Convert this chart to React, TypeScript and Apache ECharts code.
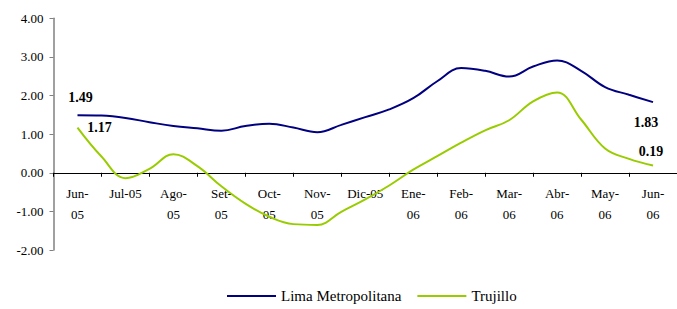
import React, { useEffect, useRef } from "react";
import * as echarts from "echarts";

const months = ["Jun-\n05", "Jul-05", "Ago-\n05", "Set-\n05", "Oct-\n05", "Nov-\n05", "Dic-05", "Ene-\n06", "Feb-\n06", "Mar-\n06", "Abr-\n06", "May-\n06", "Jun-\n06"];
const yTicks = [-2, -1, 0, 1, 2, 3, 4];
// half-month readings, Jun-05 .. Jun-06
const lima = [1.49, 1.48, 1.42, 1.31, 1.21, 1.15, 1.09, 1.21, 1.27, 1.17, 1.05, 1.24, 1.44, 1.64, 1.93, 2.37, 2.71, 2.64, 2.49, 2.75, 2.91, 2.64, 2.22, 2.02, 1.83];
const trujillo = [1.17, 0.42, -0.14, 0.10, 0.48, 0.17, -0.35, -0.80, -1.14, -1.33, -1.35, -1.01, -0.69, -0.33, 0.08, 0.43, 0.78, 1.10, 1.36, 1.85, 2.08, 1.38, 0.63, 0.36, 0.19];

const FONT = "Liberation Serif";
const GRID_H = 231.7;

function toPoints(vals: number[]) {
  return vals.map((v, i) => [0.5 + i * 0.5, v]);
}

function endLabels(vals: number[], firstOffset: number[], lastOffset: number[]) {
  const last = vals.length - 1;
  const mk = (i: number, off: number[]) => ({
    coord: [0.5 + i * 0.5, vals[i]],
    value: vals[i],
    label: {
      show: true,
      position: "inside",
      offset: off,
      formatter: vals[i].toFixed(2),
      color: "#000",
      fontFamily: FONT,
      fontWeight: "bold",
      fontSize: 14,
    },
  });
  return [mk(0, firstOffset), mk(last, lastOffset)];
}

export default function App() {
  const ref = useRef<HTMLDivElement>(null);
  useEffect(() => {
    if (!ref.current) return;
    const chart = echarts.init(ref.current, null, { renderer: "svg" });
    const yMin = yTicks[0];
    const yMax = yTicks[yTicks.length - 1];
    const zeroOffset = -(GRID_H * (0 - yMin)) / (yMax - yMin);
    chart.setOption({
      animation: false,
      backgroundColor: "#fff",
      textStyle: { fontFamily: FONT },
      grid: { left: 53.5, top: 18.3, width: 634.4, height: GRID_H, containLabel: false },
      legend: {
        left: 227,
        top: 288,
        padding: 0,
        itemWidth: 49,
        itemHeight: 2,
        itemGap: 16,
        icon: "rect",
        textStyle: { fontFamily: FONT, fontSize: 15, color: "#000", lineHeight: 16 },
        data: ["Lima Metropolitana", "Trujillo"],
      },
      xAxis: [
        {
          type: "category",
          data: months,
          boundaryGap: true,
          offset: zeroOffset,
          axisLine: { onZero: false, lineStyle: { color: "#000", width: 1 } },
          axisTick: { show: true, length: 4, interval: 0, lineStyle: { color: "#000" } },
          axisLabel: {
            interval: 0,
            margin: 10,
            fontFamily: FONT,
            fontSize: 13,
            lineHeight: 21,
            color: "#000",
          },
          splitLine: { show: false },
        },
        { type: "value", min: 0, max: 13, show: false },
      ],
      yAxis: {
        type: "value",
        min: yMin,
        max: yMax,
        interval: 1,
        axisLine: { show: true, onZero: false, lineStyle: { color: "#808080", width: 1.5 } },
        axisTick: { show: true, length: 4, lineStyle: { color: "#808080" } },
        axisLabel: {
          margin: 10,
          fontFamily: FONT,
          fontSize: 13,
          color: "#000",
          formatter: (v: number) => v.toFixed(2),
        },
        splitLine: { show: false },
      },
      series: [
        {
          name: "Lima Metropolitana",
          type: "line",
          xAxisIndex: 1,
          data: toPoints(lima),
          smooth: 0.4,
          showSymbol: false,
          lineStyle: { color: "#000080", width: 2 },
          itemStyle: { color: "#000080" },
          markPoint: {
            symbol: "circle",
            symbolSize: 0,
            data: endLabels(lima, [3, -18], [-7, 20]),
          },
        },
        {
          name: "Trujillo",
          type: "line",
          xAxisIndex: 1,
          data: toPoints(trujillo),
          smooth: 0.4,
          showSymbol: false,
          lineStyle: { color: "#99CC00", width: 2 },
          itemStyle: { color: "#99CC00" },
          markPoint: {
            symbol: "circle",
            symbolSize: 0,
            data: endLabels(trujillo, [22, 0], [-2, -14]),
          },
        },
      ],
    });
    return () => chart.dispose();
  }, []);
  return (
    <div
      ref={ref}
      style={{ position: "fixed", left: 0, top: 0, width: 677, height: 309, background: "#fff" }}
    />
  );
}
